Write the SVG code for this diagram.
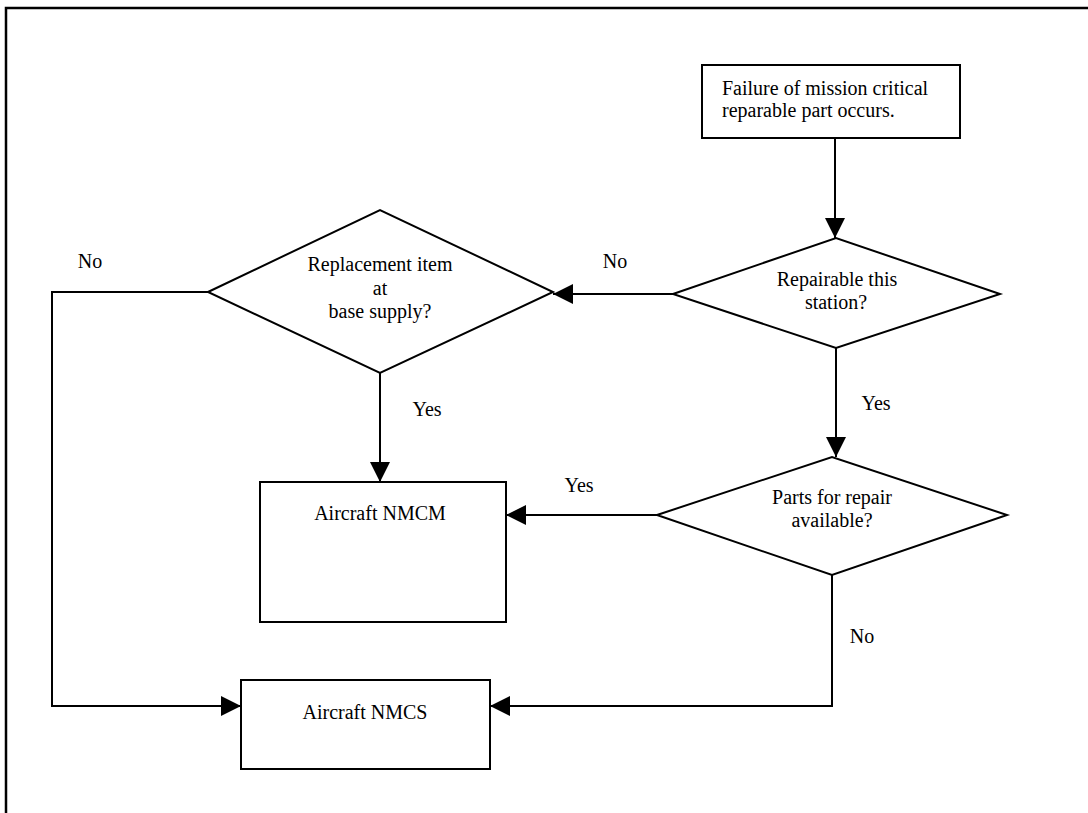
<svg xmlns="http://www.w3.org/2000/svg" width="1088" height="813" viewBox="0 0 1088 813">
<defs>
<style>
.shape{fill:#fff;stroke:#000;stroke-width:2}
.conn{fill:none;stroke:#000;stroke-width:2}
text{font-family:"Liberation Serif","Times New Roman",serif;font-size:20px;fill:#000}
.c{text-anchor:middle}
</style>
<marker id="arr" markerUnits="userSpaceOnUse" markerWidth="22" markerHeight="22" refX="20" refY="10" orient="auto" viewBox="0 0 22 22">
<path d="M0,0 L20,10 L0,20 z" fill="#000"/>
</marker>
</defs>
<rect width="1088" height="813" fill="#fff"/>
<path d="M6,813 V8 H1088" fill="none" stroke="#000" stroke-width="2.5"/>
<g id="connectors">
<path class="conn" d="M835,138 V238" marker-end="url(#arr)"/>
<path class="conn" d="M673,294 H553" marker-end="url(#arr)"/>
<path class="conn" d="M836,348 V457" marker-end="url(#arr)"/>
<path class="conn" d="M380,373 V482" marker-end="url(#arr)"/>
<path class="conn" d="M657,515 H506" marker-end="url(#arr)"/>
<path class="conn" d="M832,575 V706 H490" marker-end="url(#arr)"/>
<path class="conn" d="M208,292 H52 V706 H241" marker-end="url(#arr)"/>
<text x="90" y="268" class="c">No</text>
<text x="615" y="268" class="c">No</text>
<text x="876" y="410" class="c">Yes</text>
<text x="427" y="416" class="c">Yes</text>
<text x="579" y="492" class="c">Yes</text>
<text x="862" y="643" class="c">No</text>
</g>
<g id="start">
<rect class="shape" x="702" y="65" width="258" height="73"/>
<text x="722" y="95">Failure of mission critical</text>
<text x="722" y="117">reparable part occurs.</text>
</g>
<g id="repairable">
<polygon class="shape" points="673,294 836,238 1000,294 836,348"/>
<text x="837" y="286" class="c">Repairable this</text>
<text x="836" y="309" class="c">station?</text>
</g>
<g id="replacement">
<polygon class="shape" points="208,292 380,210 553,292 380,373"/>
<text x="380" y="271" class="c">Replacement item</text>
<text x="380" y="295" class="c">at</text>
<text x="380" y="318" class="c">base supply?</text>
</g>
<g id="parts">
<polygon class="shape" points="657,515 832,457 1007,515 832,575"/>
<text x="832" y="504" class="c">Parts for repair</text>
<text x="832" y="527" class="c">available?</text>
</g>
<g id="nmcm">
<rect class="shape" x="260" y="482" width="246" height="140"/>
<text x="380" y="520" class="c">Aircraft NMCM</text>
</g>
<g id="nmcs">
<rect class="shape" x="241" y="680" width="249" height="89"/>
<text x="365" y="719" class="c">Aircraft NMCS</text>
</g>
</svg>
